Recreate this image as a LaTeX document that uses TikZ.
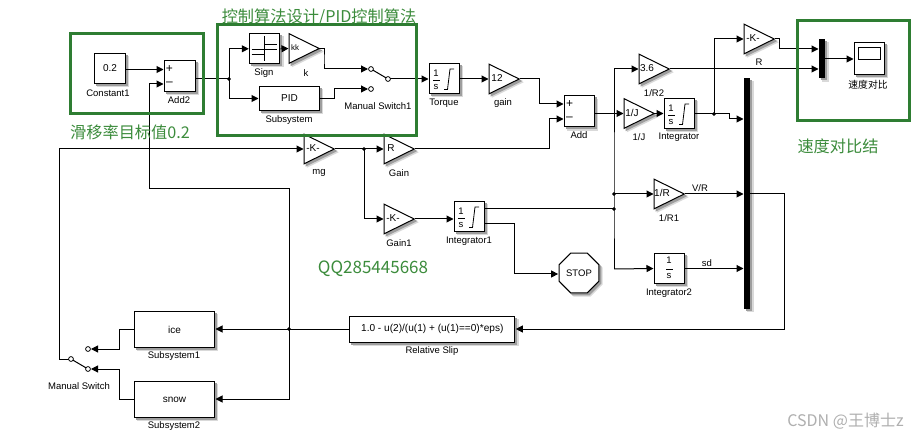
\documentclass[tikz,border=0pt]{standalone}
\usepackage{fontspec}
\setmainfont{Liberation Sans}
\newfontfamily\cjk{Noto Sans CJK SC}
\usetikzlibrary{arrows.meta,shapes.geometric,calc,backgrounds}
\definecolor{boxgreen}{RGB}{46,125,50}
\definecolor{txtgreen}{RGB}{60,140,60}
\definecolor{wm}{RGB}{175,175,175}
\tikzset{
  blk/.style={draw=black,fill=white,line width=1pt,inner sep=0pt,font=\fontsize{10}{12}\selectfont},
  gaintri/.style={isosceles triangle,isosceles triangle stretches,shape border rotate=0,draw=black,fill=white,line width=1pt,inner sep=0pt,minimum width=29.5pt,minimum height=30pt},
  stopb/.style={regular polygon,regular polygon sides=8,draw=black,fill=white,line width=1pt,inner sep=0pt,minimum size=43pt,font=\fontsize{9.5}{12}\selectfont},
  lab/.style={font=\fontsize{9.5}{11}\selectfont,inner sep=0pt,text=black},
  wire/.style={line width=1pt,draw=black},
  arr/.style={wire,-{Triangle[length=7pt,width=7pt]},shorten >=.5pt},
  greenbox/.style={draw=boxgreen,line width=3pt},
  greentext/.style={font=\cjk\fontsize{16.2}{18}\selectfont,text=txtgreen,inner sep=0pt},
  jdot/.style={circle,draw=black,fill=black,inner sep=0pt,minimum size=3.4pt,line width=.3pt},
  contact/.style={circle,draw=black,fill=white,line width=.8pt,inner sep=0pt,minimum size=4.8pt},
  mux/.style={fill=black,inner sep=0pt},
  sh1/.style={fill=black!15},
  sh2/.style={fill=black!38}
}
\newcommand{\gainb}[6][10]{% size, name, tip x, tip y, text, text x offset from left
  \node[gaintri,anchor=apex] (#2) at (#3+.5,#4) {};
  \node[inner sep=0pt,font=\fontsize{#1}{12}\selectfont] (#2t) at (#3-31+#6,#4-1) {#5};
  \coordinate (#2i) at (#3-31,#4);
  \coordinate (#2o) at (#3,#4);
}
\newcommand{\intb}[3]{% name, left, top
  \node[blk,minimum width=30pt,minimum height=30pt,anchor=north west] (#1) at (#2,#3) {};
  \node[inner sep=0pt,font=\fontsize{9.5}{11}\selectfont] (#1n) at (#2+7,#3+10) {1};
  \node[inner sep=0pt,font=\fontsize{9.5}{11}\selectfont] (#1d) at (#2+7,#3+24) {s};
  \draw[line width=.8pt] (#2+4,#3+17.5) -- (#2+10.5,#3+17.5);
  \draw[line width=.8pt] (#2+15,#3+26.5) -- (#2+18.5,#3+26.5) -- (#2+21,#3+6) -- (#2+25,#3+6);
}
\begin{document}
\begin{tikzpicture}[x=1pt,y=-1pt]
\useasboundingbox (0,0) rectangle (918,438);

% ---- blocks
\node[blk,minimum width=31pt,minimum height=30pt,anchor=north west] (const) at (94,53) {0.2};
\node[blk,minimum width=31pt,minimum height=31pt,anchor=north west] (add2) at (164,60) {};
\node[inner sep=0pt,font=\fontsize{12}{12}\selectfont] (add2p) at (169.5,69.5) {+};
\node[inner sep=0pt,font=\fontsize{12}{12}\selectfont] (add2m) at (169.5,84) {–};
\node[blk,minimum width=30pt,minimum height=30pt,anchor=north west] (sign) at (249.3,33.3) {};
\draw[line width=.8pt] (251.7,54.3)--(264.3,54.3) (264.3,36)--(264.3,60.7) (264.3,44.3)--(276.7,44.3) (251.7,49)--(276.7,49);
\gainb[8]{kk}{320}{48.5}{kk}{6}
\node[blk,minimum width=60pt,minimum height=24pt,anchor=north west] (pid) at (259,86) {PID};
\intb{torque}{429}{63}
\gainb{gain}{520}{79}{12}{8}
\node[blk,minimum width=30pt,minimum height=31pt,anchor=north west] (add) at (564,95.5) {};
\node[inner sep=0pt,font=\fontsize{12}{12}\selectfont] (addp) at (569.5,104) {+};
\node[inner sep=0pt,font=\fontsize{12}{12}\selectfont] (addm) at (569.5,119) {–};
\gainb{rtwo}{670}{69}{3.6}{8}
\gainb{oneJ}{655}{113.5}{1/J}{8}
\intb{integ}{664}{98}
\gainb{kmuxg}{775}{39}{-K-}{9}
\node[mux,minimum width=6pt,minimum height=39pt,anchor=north west] (mux) at (819,39) {};
\node[blk,minimum width=30pt,minimum height=32pt,anchor=north west] (scope) at (854,42) {};
\draw[line width=.8pt] (858.5,47.5) rectangle (880.5,59);
\node[mux,minimum width=6pt,minimum height=230.5pt,anchor=north west] (bar) at (744,78) {};
\gainb{mg}{335}{149}{-K-}{9}
\gainb{gainR}{415}{149}{R}{7}
\gainb{gone}{415}{219}{-K-}{9}
\intb{intone}{454}{201}
\gainb{rone}{685}{194}{1/R}{8}
\node[blk,minimum width=30pt,minimum height=30pt,anchor=north west] (inttwo) at (654,253) {};
\node[inner sep=0pt,font=\fontsize{9.5}{11}\selectfont] (inttwon) at (669,260.5) {1};
\node[inner sep=0pt,font=\fontsize{9.5}{11}\selectfont] (inttwod) at (669,276) {s};
\draw[line width=.8pt] (666,269)--(672.5,269);
\node[stopb] (stop) at (579,273) {STOP};
\node[blk,minimum width=165pt,minimum height=26pt,anchor=north west,font=\fontsize{10.1}{12}\selectfont] (slip) at (349.3,315.5) {1.0 - u(2)/(u(1) + (u(1)==0)*eps)};
\node[blk,minimum width=80pt,minimum height=36pt,anchor=north west] (ice) at (134,311) {ice};
\node[blk,minimum width=80pt,minimum height=36pt,anchor=north west] (snow) at (134,381) {snow};

% ---- soft shadows behind the blocks
\begin{pgfonlayer}{background}
\fill[white] (0,0) rectangle (918,438);
\foreach \st/\d in {sh1/3.2,sh2/2} {
  \foreach \n in {const,add2,sign,pid,torque,add,integ,mux,scope,bar,intone,inttwo,slip,ice,snow}
    \fill[\st] ($(\n.north west)+(\d,\d)$) rectangle ($(\n.south east)+(\d,\d)$);
  \foreach \n in {kk,gain,rtwo,oneJ,kmuxg,mg,gainR,gone,rone}
    \fill[\st] ($(\n.apex)+(\d,\d)$) -- ($(\n.left corner)+(\d,\d)$) -- ($(\n.right corner)+(\d,\d)$) -- cycle;
  \fill[\st] ($(stop.corner 1)+(\d,\d)$) -- ($(stop.corner 2)+(\d,\d)$) -- ($(stop.corner 3)+(\d,\d)$) -- ($(stop.corner 4)+(\d,\d)$) -- ($(stop.corner 5)+(\d,\d)$) -- ($(stop.corner 6)+(\d,\d)$) -- ($(stop.corner 7)+(\d,\d)$) -- ($(stop.corner 8)+(\d,\d)$) -- cycle;
}
\end{pgfonlayer}

% ---- free points
\coordinate (busTop) at (614,69);
\coordinate (left1) at (59,149);
\coordinate (left2) at (59,359);
\coordinate (j1) at (229,79);
\coordinate (j2) at (714,114);
\coordinate (j3) at (364,149);
\coordinate (j4) at (614,194);
\coordinate (j5) at (614,209);
\coordinate (j6) at (289,329);

% ---- connectors
\draw[arr] (const.east|-0,69.5) -- (add2.west|-0,69.5);
\draw[wire] (add2.east|-j1) -- (j1);
\draw[arr] (j1) |- (sign.west);
\draw[arr] (j1) |- (pid.west);
\draw[arr] (sign.east) -- (kki);
\draw[arr] (kko) -| (324,60) |- (368.5,69);
\draw[arr] (pid.east) -| (334,89) -- (368.5,89);
\draw[arr] (388,79) -- (torque.west|-0,79);
\draw[arr] (torque.east|-gaino) -- (gaini);
\draw[arr] (gaino) -| (539,104) -- (add.west|-addp);
\draw[arr] (gainRo) -| (549,119) -- (add.west|-addm);
\draw[arr] (add.east|-oneJi) -- (oneJi);
\draw[arr] (oneJo) -- (integ.west|-oneJo);
\draw[wire] (integ.east|-j2) -- (j2);
\draw[arr] (j2) -- (729,114) -- (729,119) -- (bar.west|-0,119);
\draw[arr] (j2) |- (kmuxgi);
\draw[arr] (kmuxgo) -- (779,39) -- (779,49) -- (mux.west|-0,49);
\draw[arr] (rtwoo) -- (mux.west|-rtwoo);
\draw[arr] (mux.east|-0,59) -- (scope.west|-0,59);
\draw[arr] (busTop) -- (rtwoi);
\draw[wire] (busTop) -- (j4) -- (j5) -- (614,269);
\draw[arr] (614,269) -- (inttwo.west);
\draw[arr] (j4) -- (ronei);
\draw[arr] (roneo) -- (bar.west|-roneo);
\draw[arr] (inttwo.east) -- (bar.west|-inttwo.east);
\draw[wire] (intone.east|-j5) -- (j5);
\draw[arr] (intone.east|-0,224) -- (514,224) -- (514,274) -- (stop.west|-0,274);
\draw[arr] (left1) -- (mgi);
\draw[wire] (mgo) -- (j3);
\draw[arr] (j3) -- (gainRi);
\draw[arr] (j3) |- (gonei);
\draw[arr] (goneo) -- (intone.west|-goneo);
\draw[arr] (bar.east|-roneo) -- (784.5,194) -- (784.5,329) -- (slip.east|-0,329);
\draw[wire] (slip.west|-j6) -- (j6);
\draw[arr] (j6) -- (ice.east|-j6);
\draw[arr] (j6) |- (snow.east|-0,399);
\draw[arr] (ice.west|-j6) -- (119,329) -- (119,349) -- (90.5,349);
\draw[arr] (snow.west|-0,399) -- (119,399) -- (119,369) -- (90.5,369);
\draw[wire] (left1) -- (left2) -- (71,359);
\draw[arr] (j6) -- (289,189) -- (149.5,189) -- (149.5,84) -- (add2.west|-0,84);

% ---- junction dots and switch contacts, on top of the wires
\node[jdot] (d1) at (j1) {};
\node[jdot] (d2) at (j2) {};
\node[jdot] (d3) at (j3) {};
\node[jdot] (d4) at (j4) {};
\node[jdot] (d5) at (j5) {};
\node[jdot] (d6) at (j6) {};
\draw[wire] (371,69) -- (388,79);
\draw[wire] (71,359) -- (88,369);
\node[contact] (sw1a) at (371,69) {};
\node[contact] (sw1b) at (371,89) {};
\node[contact] (sw1c) at (388,79) {};
\node[contact] (swa) at (88,349) {};
\node[contact] (swb) at (88,369) {};
\node[contact] (swc) at (71,359) {};

% ---- green frames
\draw[greenbox] (70,34) rectangle (203,114);
\draw[greenbox] (217.5,24.5) rectangle (416,136);
\draw[greenbox] (797.5,20.5) rectangle (909,121);

% ---- labels
\node[lab] (l1) at (108,93) {Constant1};
\node[lab] (l2) at (179,100.5) {Add2};
\node[lab] (l3) at (264,73) {Sign};
\node[lab] (l4) at (306,73) {k};
\node[lab] (l5) at (289,120) {Subsystem};
\node[lab] (l6) at (378,106) {Manual Switch1};
\node[lab] (l7) at (444,103) {Torque};
\node[lab] (l8) at (503,103) {gain};
\node[lab] (l9) at (579,135.5) {Add};
\node[lab] (l10) at (654,93) {1/R2};
\node[lab] (l11) at (639,137.5) {1/J};
\node[lab] (l12) at (679,137.5) {Integrator};
\node[lab] (l13) at (759,62) {R};
\node[lab,font=\cjk\fontsize{9.8}{11}\selectfont] (l14) at (868,85) {速度对比};
\node[lab] (l15) at (319,173) {mg};
\node[lab] (l16) at (399,173) {Gain};
\node[lab] (l17) at (399,243) {Gain1};
\node[lab] (l18) at (469,241) {Integrator1};
\node[lab] (l19) at (669,218) {1/R1};
\node[lab] (l20) at (700,188) {V/R};
\node[lab] (l21) at (707,263) {sd};
\node[lab] (l22) at (669,293) {Integrator2};
\node[lab] (l23) at (432,351) {Relative Slip};
\node[lab] (l24) at (174,356) {Subsystem1};
\node[lab] (l25) at (174,426) {Subsystem2};
\node[lab] (l26) at (79,386) {Manual Switch};

\node[greentext] (g1) at (319,17) {控制算法设计/PID控制算法};
\node[greentext] (g2) at (130,132) {滑移率目标值0.2};
\node[greentext] (g3) at (838,146) {速度对比结};
\node[greentext,font=\cjk\fontsize{17}{18}\selectfont] (g4) at (373,269) {QQ285445668};
\node[inner sep=0pt,font=\cjk\fontsize{16}{18}\selectfont,text=wm] (wmk) at (845.5,421) {CSDN @王博士z};
\end{tikzpicture}
\end{document}
